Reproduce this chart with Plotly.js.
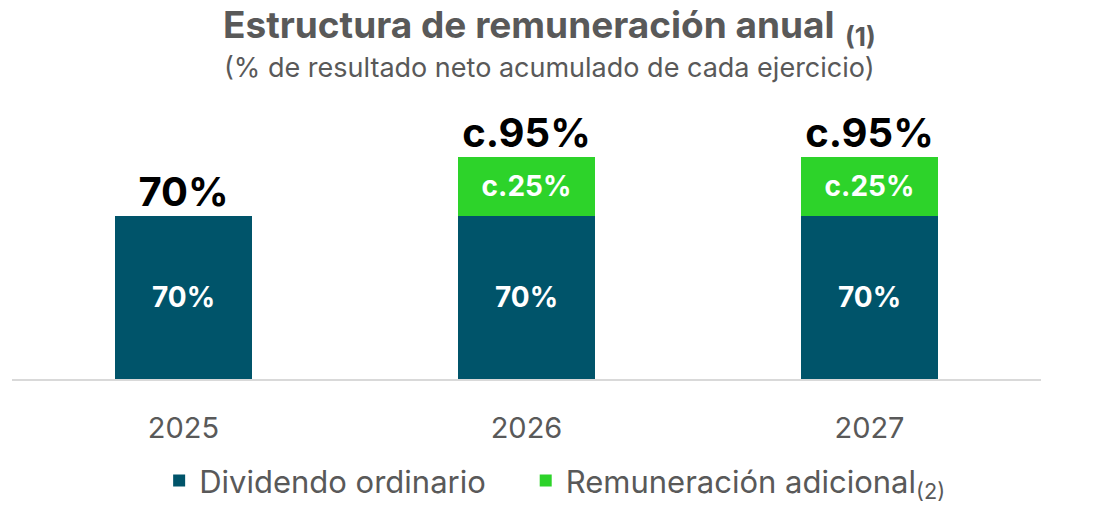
<!DOCTYPE html>
<html>
<head>
<meta charset="utf-8">
<script src="https://cdn.plot.ly/plotly-3.0.1.min.js"></script>
<style>html,body{margin:0;padding:0;background:#fff;}#chart{width:1114px;height:519px;}</style>
</head>
<body>
<div id="chart"></div>
<script>
const years = ["2025", "2026", "2027"];
const ordinario = [70, 70, 70];
const adicional = [0, 25, 25];
const ordinarioLabels = ["70%", "70%", "70%"];
const adicionalLabels = ["", "c.25%", "c.25%"];
const totalLabels = ["70%", "c.95%", "c.95%"];

const FONT = "Inter, Noto Sans, sans-serif";
const totals = years.map((y, i) => ordinario[i] + adicional[i]);

const traces = [
  {
    type: "bar", name: "Dividendo ordinario&nbsp;&nbsp;&nbsp;&nbsp;", x: years, y: ordinario,
    text: ordinarioLabels, textposition: "inside", insidetextanchor: "middle",
    textfont: {family: FONT, size: 28, color: "#ffffff", weight: 700},
    marker: {color: "#00546A"}, hoverinfo: "skip"
  },
  {
    type: "bar", name: "Remuneración adicional<sub>(2)</sub>", x: years, y: adicional,
    text: adicionalLabels, textposition: "inside", insidetextanchor: "middle",
    textfont: {family: FONT, size: 28, color: "#ffffff", weight: 700},
    marker: {color: "#2DD32A"}, hoverinfo: "skip"
  },
  {
    type: "scatter", mode: "text", x: years, y: totals, text: totalLabels,
    textposition: "top center", showlegend: false, hoverinfo: "skip", cliponaxis: false,
    textfont: {family: FONT, size: 40, color: "#000000", weight: 700}
  }
];

const layout = {
  width: 1114, height: 519,
  margin: {l: 12, r: 73, t: 100, b: 139},
  paper_bgcolor: "#ffffff", plot_bgcolor: "#ffffff",
  barmode: "stack", bargap: 0.6,
  showlegend: true,
  annotations: [
    {
      xref: "paper", yref: "paper", x: 0.522, xanchor: "center",
      y: 1.0, yshift: 73, yanchor: "middle", showarrow: false,
      text: "<b>Estructura de remuneración anual</b> <b><sub>(1)</sub></b>",
      font: {family: FONT, size: 37, color: "#595959"}
    },
    {
      xref: "paper", yref: "paper", x: 0.522, xanchor: "center",
      y: 1.0, yshift: 33, yanchor: "middle", showarrow: false,
      text: "(% de resultado neto acumulado de cada ejercicio)",
      font: {family: FONT, size: 27, color: "#595959"}
    }
  ],
  xaxis: {
    type: "category", range: [-0.5, 2.5],
    showline: true, linecolor: "#d9d9d9", linewidth: 2,
    showgrid: false, ticks: "", ticklabelstandoff: 22,
    tickfont: {family: FONT, size: 29, color: "#595959"}
  },
  yaxis: {range: [0, 119.5], visible: false, showgrid: false, zeroline: false},
  legend: {
    orientation: "h", traceorder: "normal", x: 0.143, xanchor: "left", y: -0.36, yanchor: "middle",
    font: {family: FONT, size: 31, color: "#595959"},
    itemwidth: 30
  }
};

Plotly.newPlot("chart", traces, layout, {displayModeBar: false, staticPlot: true});
</script>
</body>
</html>
